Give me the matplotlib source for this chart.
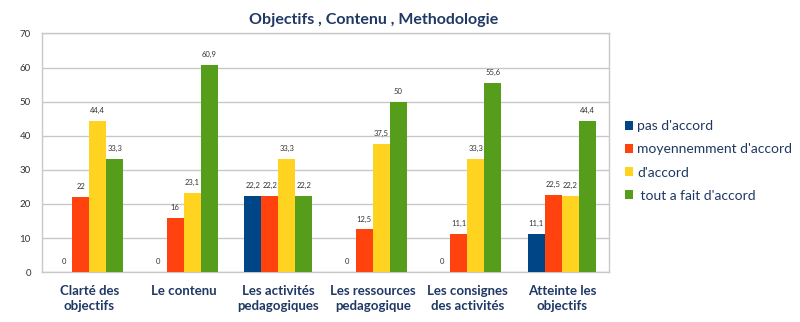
import matplotlib
matplotlib.use("Agg")
import matplotlib.pyplot as plt
import numpy as np

plt.rcParams['font.family'] = ['Lato', 'DejaVu Sans']

categories = ["Clarté des\nobjectifs", "Le contenu", "Les activités\npedagogiques",
              "Les ressources\npedagogique", "Les consignes\ndes activités", "Atteinte les\nobjectifs"]
series_names = ["pas d'accord", "moyennemment d'accord", "d'accord", " tout a fait d'accord"]
pas_accord = [0, 0, 22.2, 0, 0, 11.1]
moyen_accord = [22, 16, 22.2, 12.5, 11.1, 22.5]
accord = [44.4, 23.1, 33.3, 37.5, 33.3, 22.2]
tout_accord = [33.3, 60.9, 22.2, 50, 55.6, 44.4]
colors = ["#004586", "#ff420e", "#ffd320", "#579d1c"]
navy = "#1f3864"

fig = plt.figure(figsize=(8, 3.22), dpi=100)
ax = fig.add_axes([0.0525, 0.155, 0.709, 0.741])

x = np.arange(len(categories))
w = 0.18
data = [pas_accord, moyen_accord, accord, tout_accord]
for i, (vals, c, name) in enumerate(zip(data, colors, series_names)):
    pos = x + (i - 1.5) * w
    bars = ax.bar(pos, vals, w, color=c, label=name, zorder=3)
    for b, v in zip(bars, vals):
        txt = ("%g" % v).replace(".", ",")
        ax.annotate(txt, (b.get_x() + b.get_width() / 2, v), xytext=(0, 5),
                    textcoords="offset points", ha="center", va="bottom",
                    fontsize=5.5, color="#333333")

ax.set_xlim(-0.5, len(categories) - 0.5)
ax.set_ylim(0, 70)
ax.set_yticks(range(0, 71, 10))
ax.yaxis.grid(True, color="#c8c8c8", linewidth=1, zorder=0)
ax.tick_params(axis="y", length=0, labelsize=7, colors="#333333", pad=8)
ax.tick_params(axis="x", length=0, pad=9)
ax.set_xticks(x)
ax.set_xticklabels(categories, fontsize=9.5, fontweight="bold", color=navy, linespacing=1.35)
for s in ax.spines.values():
    s.set_color("#c8c8c8")
    s.set_linewidth(1)

ax.set_title("Objectifs , Contenu , Methodologie", fontsize=11.5, fontweight="bold",
             color=navy, pad=7, x=0.585)

leg = fig.legend(loc="upper left", bbox_to_anchor=(0.765, 0.665), frameon=False,
                 fontsize=10, handlelength=0.6, handleheight=0.6, handletextpad=0.3,
                 labelspacing=0.8)
for t in leg.get_texts():
    t.set_color(navy)

fig.savefig("out.png", dpi=100)
